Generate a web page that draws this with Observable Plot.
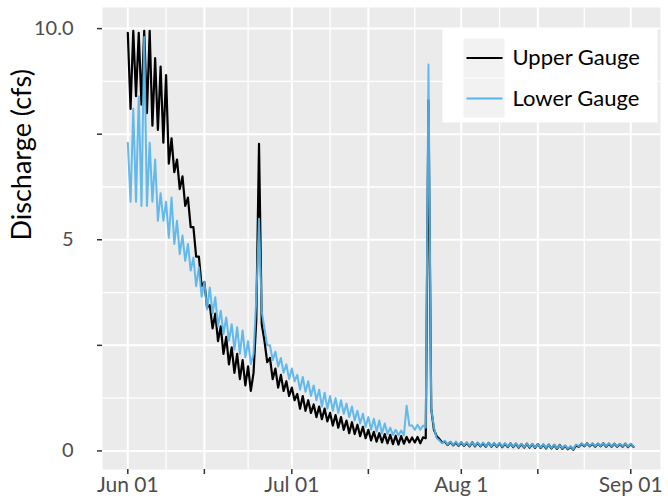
<!DOCTYPE html>
<html>
<head>
<meta charset="utf-8">
<script src="https://cdn.jsdelivr.net/npm/d3@7"></script>
<script src="https://cdn.jsdelivr.net/npm/@observablehq/plot@0.6"></script>
<style>
  html, body { margin: 0; padding: 0; background: white; }
</style>
</head>
<body>
<div id="chart"></div>
<script>
// ---- data: two readings per day (day peak, overnight low), Jun 01 .. Sep 01 ----
const startDate = "2019-06-01";
const upperPeak = [
  9.9, 9.95, 9.9, 9.95, 9.95, 9.3, 9.1, 8.9, 7.4, 6.9,
  6.5, 6.0, 5.3, 4.6, 4.0, 3.45, 3.25, 2.95, 2.7, 2.45,
  2.3, 2.15, 2.0, 1.85, 7.27, 2.6, 2.2, 1.95, 1.8, 1.65,
  1.5, 1.35, 1.3, 1.2, 1.1, 1.05, 1.0, 0.9, 0.85, 0.8,
  0.72, 0.68, 0.62, 0.57, 0.5, 0.45, 0.42, 0.4, 0.38, 0.36,
  0.35, 0.33, 0.32, 0.33, 0.32, 8.3, 0.5, 0.28,
  0.22, 0.21, 0.2, 0.2, 0.19, 0.2, 0.19, 0.18, 0.19, 0.18,
  0.18, 0.17, 0.18, 0.17, 0.16, 0.17, 0.16, 0.16, 0.15, 0.15,
  0.14, 0.14, 0.12, 0.1, 0.13, 0.17, 0.18, 0.17, 0.17, 0.18,
  0.17, 0.17, 0.16, 0.17, 0.16
];
const upperLow = [
  8.1, 8.4, 8.2, 8.0, 7.7, 7.6, 7.3, 6.8, 6.6, 6.2,
  5.8, 5.3, 4.6, 3.9, 3.4, 2.9, 2.6, 2.3, 2.05, 1.85,
  1.7, 1.55, 1.42, 3.1, 3.0, 2.1, 1.7, 1.5, 1.42, 1.3,
  1.2, 1.0, 0.95, 0.9, 0.8, 0.75, 0.7, 0.6, 0.55, 0.5,
  0.42, 0.4, 0.35, 0.3, 0.25, 0.22, 0.2, 0.18, 0.16, 0.15,
  0.17, 0.2, 0.2, 0.18, 0.3, 1.0, 0.35, 0.2,
  0.14, 0.13, 0.12, 0.12, 0.11, 0.11, 0.11, 0.1, 0.1, 0.1,
  0.09, 0.09, 0.09, 0.08, 0.08, 0.08, 0.07, 0.07, 0.06, 0.06,
  0.05, 0.05, 0.04, 0.03, 0.1, 0.11, 0.11, 0.1, 0.11, 0.1,
  0.1, 0.1, 0.1, 0.09, 0.1
];
const lowerPeak = [
  7.3, 8.1, 8.4, 9.8, 7.3, 6.9, 6.1, 5.9, 6.0, 5.45,
  5.1, 4.9, 4.58, 4.35, 4.0, 3.87, 3.64, 3.32, 3.16, 3.0,
  2.93, 2.85, 2.6, 2.3, 5.5, 2.9, 2.5, 2.35, 2.2, 2.05,
  1.95, 1.8, 1.75, 1.65, 1.55, 1.45, 1.38, 1.3, 1.25, 1.2,
  1.12, 1.05, 0.95, 0.88, 0.8, 0.76, 0.72, 0.65, 0.55, 0.5,
  0.48, 1.07, 0.6, 0.62, 0.6, 9.15, 0.55, 0.25,
  0.24, 0.22, 0.22, 0.21, 0.21, 0.2, 0.2, 0.2, 0.19, 0.19,
  0.19, 0.18, 0.18, 0.18, 0.17, 0.17, 0.17, 0.16, 0.16, 0.15,
  0.15, 0.14, 0.13, 0.11, 0.15, 0.18, 0.18, 0.18, 0.17, 0.18,
  0.18, 0.17, 0.17, 0.17, 0.17
];
const lowerLow = [
  5.9, 5.9, 5.8, 5.8, 5.9, 5.45, 5.45, 5.05, 4.9, 4.66,
  4.5, 4.27, 3.9, 3.65, 3.35, 3.25, 2.95, 2.77, 2.61, 2.4,
  2.3, 2.22, 2.06, 3.6, 3.3, 2.5, 2.15, 2.0, 1.85, 1.7,
  1.65, 1.45, 1.4, 1.3, 1.2, 1.05, 1.0, 0.95, 0.9, 0.88,
  0.8, 0.72, 0.65, 0.57, 0.5, 0.46, 0.41, 0.4, 0.38, 0.37,
  0.37, 0.6, 0.5, 0.5, 0.55, 1.0, 0.3, 0.18,
  0.15, 0.14, 0.13, 0.13, 0.12, 0.12, 0.12, 0.11, 0.11, 0.11,
  0.1, 0.1, 0.1, 0.09, 0.09, 0.09, 0.08, 0.08, 0.07, 0.07,
  0.06, 0.06, 0.05, 0.04, 0.11, 0.12, 0.12, 0.11, 0.12, 0.11,
  0.11, 0.11, 0.11, 0.1, 0.11
];
const seriesNames = ["Upper Gauge", "Lower Gauge"];
const seriesColors = ["#000000", "#56B4E9"];

// axis breaks and labels
const xMajor = ["2019-06-01", "2019-06-15", "2019-07-01", "2019-07-15", "2019-08-01", "2019-08-15", "2019-09-01"];
const xMajorLabels = ["Jun 01", "", "Jul 01", "", "Aug 1", "", "Sep 01"];
const xMinor = ["2019-06-08", "2019-06-23", "2019-07-08", "2019-07-23T12:00Z", "2019-08-08", "2019-08-23T12:00Z"];
const yMajor = [0, 2.5, 5, 7.5, 10];
const yMajorLabels = ["0", "", "5", "", "10.0"];
const yMinor = [1.25, 3.75, 6.25, 8.75];
const yTitle = "Discharge (cfs)";

// ---- build tables ----
const DAY = 864e5;
const t0 = new Date(startDate).getTime();
function buildSeries(peak, low, name) {
  const out = [];
  peak.forEach((p, i) => {
    out.push({date: new Date(t0 + i * DAY), value: p, gauge: name});
    out.push({date: new Date(t0 + (i + 0.5) * DAY), value: low[i], gauge: name});
  });
  return out;
}
const upper = buildSeries(upperPeak, upperLow, seriesNames[0]);
const lower = buildSeries(lowerPeak, lowerLow, seriesNames[1]);
const xMajorDates = xMajor.map(d => new Date(d));
const xMinorDates = xMinor.map(d => new Date(d));
const xLabelMap = new Map(xMajorDates.map((d, i) => [+d, xMajorLabels[i]]));
const yLabelMap = new Map(yMajor.map((v, i) => [v, yMajorLabels[i]]));

const chart = Plot.plot({
  width: 668,
  height: 499,
  marginLeft: 102,
  marginRight: 8,
  marginTop: 7,
  marginBottom: 30,
  style: {fontFamily: "Lato, 'Open Sans', sans-serif", fontSize: "20px", background: "white", color: "#4d4d4d"},
  x: {type: "utc", domain: [new Date(t0 - 4.63 * DAY), new Date(t0 + 97.44 * DAY)]},
  y: {domain: [-0.44, 10.5]},
  marks: [
    Plot.frame({fill: "#ebebeb", stroke: "none"}),
    Plot.ruleY(yMinor, {stroke: "white", strokeWidth: 1.3}),
    Plot.ruleX(xMinorDates, {stroke: "white", strokeWidth: 1.3}),
    Plot.ruleY(yMajor, {stroke: "white", strokeWidth: 2}),
    Plot.ruleX(xMajorDates, {stroke: "white", strokeWidth: 2}),
    Plot.axisX(xMajorDates, {tickFormat: d => xLabelMap.get(+d) ?? "", tickSize: 5, tickPadding: 3, fontSize: 21, label: null, strokeWidth: 1.5, stroke: "#333"}),
    Plot.axisY(yMajor, {tickFormat: d => yLabelMap.get(d) ?? "", tickSize: 5, tickPadding: 24, fontSize: 20, label: null, strokeWidth: 1.5, stroke: "#333"}),
    Plot.lineY(upper, {x: "date", y: "value", stroke: seriesColors[0], strokeWidth: 2.2, strokeLinejoin: "round"}),
    Plot.lineY(lower, {x: "date", y: "value", stroke: seriesColors[1], strokeWidth: 2, strokeOpacity: 0.92, strokeLinejoin: "round"}),
    // legend
    Plot.frame({fill: "white", stroke: "none", insetLeft: 340, insetRight: 3, insetTop: 21, insetBottom: 347}),
    Plot.frame({fill: "#f2f2f2", stroke: "none", insetLeft: 361, insetRight: 156, insetTop: 31, insetBottom: 392}),
    Plot.frame({fill: "#f2f2f2", stroke: "none", insetLeft: 361, insetRight: 156, insetTop: 71, insetBottom: 352}),
    Plot.frame({fill: seriesColors[0], stroke: "none", insetLeft: 364, insetRight: 158, insetTop: 49.5, insetBottom: 410.5}),
    Plot.frame({fill: seriesColors[1], stroke: "none", insetLeft: 364, insetRight: 158, insetTop: 90, insetBottom: 370}),
    Plot.text([seriesNames[0]], {text: d => d, frameAnchor: "top-left", dx: 410, dy: 50, textAnchor: "start", lineAnchor: "middle", fontSize: 22, fill: "black"}),
    Plot.text([seriesNames[1]], {text: d => d, frameAnchor: "top-left", dx: 410, dy: 91, textAnchor: "start", lineAnchor: "middle", fontSize: 22, fill: "black"}),
    // y axis title
    Plot.text([yTitle], {text: d => d, frameAnchor: "left", dx: -80, dy: 2, rotate: -90, fontSize: 27, fill: "black"})
  ]
});
document.getElementById("chart").appendChild(chart);
</script>
</body>
</html>
